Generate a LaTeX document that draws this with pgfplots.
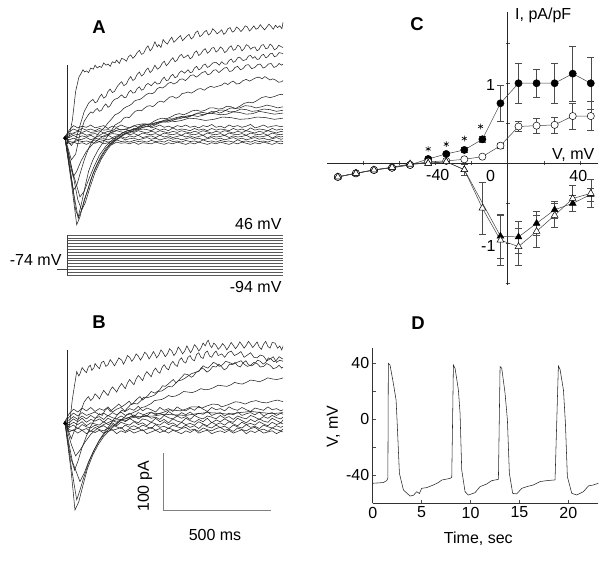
\documentclass[border=0pt]{standalone}
\usepackage{fontspec}
\setmainfont{Liberation Sans}
\usepackage{pgfplots}
\usepackage{pgfplotstable}
\pgfplotsset{compat=1.18}
\newcommand\lbl{\fontsize{16}{18}\selectfont}
\newcommand\pan{\fontsize{18.5}{20}\selectfont\bfseries}
\pgfplotsset{
  trace/.style={line width=0.55pt, black!85, no markers},
  cline/.style={line width=0.5pt, black!75},
}
\pgfplotstableread{
x a b c d e f g h
-10 0 0 0 0 0 0 0 0
10 12 9 6 2 -1 -5 -8 -12
30 20 14 7 6 3 -2 -9 -9
50 16 11 10 4 -1 -5 -6 -12
70 19 15 8 7 2 -4 -8 -10
90 17 12 11 3 0 -1 -7 -13
110 21 14 8 5 3 -5 -9 -9
130 16 11 9 6 -1 -2 -5 -11
150 18 15 11 3 2 -4 -8 -8
170 20 12 7 7 0 -3 -6 -12
190 15 13 10 4 3 -5 -9 -10
210 19 11 8 6 -1 -2 -7 -13
230 17 16 11 5 2 -4 -5 -9
250 21 12 9 3 1 -1 -8 -11
270 18 14 7 7 -2 -5 -7 -10
290 16 11 10 4 2 -3 -9 -12
310 20 15 8 6 0 -2 -6 -9
330 17 12 11 3 3 -5 -8 -13
350 19 14 9 7 -1 -3 -7 -10
370 22 13 7 5 1 -1 -9 -11
390 16 11 10 4 2 -4 -6 -12
410 18 15 8 6 -1 -2 -8 -9
430 21 12 11 3 3 -5 -7 -11
450 17 14 9 7 0 -3 -9 -13
470 19 11 7 5 2 -1 -5 -10
490 16 16 10 4 -1 -4 -8 -12
510 20 12 8 6 1 -2 -7 -9
530 18 14 11 3 3 -5 -9 -11
550 21 13 9 7 0 -3 -6 -13
570 17 11 7 5 2 -1 -8 -10
590 19 15 10 4 -1 -4 -7 -12
610 16 12 8 6 1 -2 -9 -9
630 20 14 11 3 3 -5 -5 -11
650 18 11 9 7 -2 -3 -8 -13
670 22 15 7 5 2 -1 -7 -10
690 17 12 10 4 0 -4 -9 -12
710 19 14 8 6 1 -2 -6 -9
730 16 13 11 3 3 -5 -8 -11
750 21 11 9 7 -1 -3 -7 -13
770 18 15 7 5 2 -1 -9 -10
790 20 12 10 4 0 -4 -5 -12
810 17 14 8 6 1 -2 -8 -9
830 19 11 11 3 3 -5 -7 -11
850 22 16 9 7 -1 -3 -9 -13
870 16 12 7 5 2 -1 -6 -10
890 18 14 10 4 0 -4 -8 -12
910 21 13 8 6 1 -2 -7 -9
930 17 11 11 3 3 -5 -9 -11
950 19 15 9 7 -2 -3 -6 -13
970 20 12 7 5 2 -1 -8 -10
990 18 14 10 4 0 -4 -7 -12
1000 19 13 9 5 1 -3 -8 -11
}\flatA
\pgfplotstableread{
x a b c d e f g h
-10 0 0 0 0 0 0 0 0
10 14 8 3 -2 -6 -10 -14 -18
30 22 15 9 5 -1 -6 -16 -14
50 17 10 4 0 -5 -12 -11 -20
70 24 16 10 6 0 -5 -15 -15
90 19 11 5 -1 -7 -9 -12 -21
110 25 14 11 4 -2 -11 -17 -16
130 18 17 6 1 -4 -6 -10 -19
150 23 12 9 5 -6 -10 -14 -15
170 20 15 4 -1 0 -7 -16 -20
190 26 10 11 6 -5 -12 -11 -17
210 17 16 7 2 -2 -5 -15 -14
230 22 12 5 -1 -7 -9 -13 -21
250 25 17 10 4 -1 -12 -10 -16
270 18 11 6 0 -4 -6 -17 -19
290 23 15 8 6 -6 -10 -12 -15
310 20 9 12 1 0 -7 -14 -20
330 27 16 5 -2 -5 -11 -11 -17
350 19 13 9 5 -2 -6 -16 -14
370 24 10 11 3 -7 -9 -13 -21
390 21 17 6 -1 -1 -12 -10 -18
410 17 12 8 6 -4 -5 -15 -15
430 25 15 4 0 -6 -10 -12 -19
450 20 11 11 4 0 -8 -17 -16
470 23 18 7 -2 -5 -12 -11 -20
490 18 13 5 5 -2 -6 -14 -15
510 26 10 10 1 -7 -9 -16 -18
530 21 16 6 -1 -1 -11 -12 -21
550 19 12 9 6 -5 -6 -10 -16
570 24 17 4 2 -3 -10 -15 -19
590 20 11 11 -1 -6 -7 -13 -14
610 27 15 7 4 0 -12 -17 -20
630 22 13 5 0 -4 -5 -11 -17
650 18 18 10 6 -7 -9 -14 -15
670 25 11 8 -2 -1 -11 -16 -21
690 21 14 5 3 -5 -6 -12 -18
710 23 16 11 0 -2 -10 -10 -16
730 19 10 6 5 -6 -8 -15 -19
750 26 15 9 1 0 -12 -13 -15
770 22 12 4 -1 -4 -6 -17 -20
790 20 17 10 6 -7 -9 -11 -17
810 25 11 7 2 -1 -11 -14 -14
830 21 14 5 -2 -5 -5 -16 -21
850 18 16 11 4 -3 -10 -12 -16
870 24 12 8 0 -6 -8 -10 -19
890 22 17 4 5 0 -12 -15 -15
910 20 10 9 1 -4 -6 -13 -20
930 26 14 6 -1 -7 -9 -17 -18
950 21 16 11 6 -1 -11 -11 -16
970 23 11 7 2 -5 -7 -14 -21
990 19 15 5 -2 -2 -10 -16 -17
1000 21 13 8 3 -4 -8 -13 -18
}\flatB
\begin{document}
\begin{tikzpicture}
\useasboundingbox (0,0) rectangle (610pt,560pt);
% ---------------- Panel A traces
\begin{axis}[at={(67pt,331.8pt)}, anchor=south west, scale only axis,
  width=216pt, height=205.2pt, xmin=0, xmax=1000, ymin=-160, ymax=200,
  hide axis, clip=false]
\addplot[trace] coordinates {(-10,2) (10,0) (25,30) (40,80) (55,105) (66,112) (74,118) (82,114) (90,116) (100,113) (110,121) (122,119) (130,126) (140,121) (150,124) (160,122) (170,130) (180,126) (190,128) (200,124) (210,132) (222,130) (230,135) (242,129) (253,138) (265,136) (275,133) (285,141) (295,144) (305,138) (315,142) (325,148) (335,152) (345,145) (355,147) (365,155) (375,160) (385,151) (395,156) (407,167) (418,158) (425,162) (435,157) (445,171) (455,166) (465,163) (475,170) (485,175) (495,166) (505,170) (515,174) (525,178) (535,169) (545,173) (555,177) (565,180) (575,172) (585,175) (595,183) (605,186) (615,176) (625,179) (635,184) (645,187) (655,179) (665,182) (675,190) (685,186) (695,181) (705,184) (716,188) (726,180) (735,183) (745,190) (755,192) (765,184) (775,186) (785,193) (795,190) (805,185) (815,189) (825,195) (835,193) (845,186) (855,190) (865,195) (875,189) (885,191) (895,197) (905,192) (915,188) (925,193) (935,198) (945,194) (955,189) (965,196) (975,192) (985,195) (995,190) (1000,201)};
\addplot[trace] coordinates {(-10,0) (20,-15) (40,-5) (60,20) (80,45) (90,52) (99,59) (110,63) (120,66) (130,60) (140,62) (150,70) (160,75) (170,68) (180,71) (190,80) (200,84) (210,78) (220,80) (235,90) (245,94) (253,97) (263,90) (275,93) (285,101) (295,106) (305,99) (315,102) (325,110) (335,114) (345,107) (355,110) (365,117) (375,121) (385,113) (395,117) (407,126) (418,119) (430,122) (440,129) (450,133) (460,125) (470,129) (480,135) (490,139) (500,132) (510,135) (520,142) (530,145) (540,139) (550,141) (560,144) (570,137) (580,140) (590,148) (600,151) (610,143) (620,146) (630,152) (640,155) (650,147) (660,150) (670,156) (680,157) (690,149) (700,152) (710,158) (720,155) (730,148) (740,151) (750,157) (760,160) (770,152) (780,154) (790,161) (800,159) (810,151) (820,155) (830,162) (840,160) (850,154) (860,157) (870,158) (880,151) (890,154) (900,161) (910,162) (920,155) (930,156) (940,163) (950,160) (960,153) (970,155) (980,161) (994,158) (1000,157)};
\addplot[trace] coordinates {(-10,0) (20,-40) (40,-30) (60,5) (80,28) (99,39) (110,44) (120,42) (130,47) (140,50) (150,45) (160,47) (170,54) (180,58) (190,52) (200,55) (210,62) (220,66) (235,68) (253,74) (265,69) (275,70) (285,78) (295,82) (305,77) (315,78) (325,85) (335,88) (345,82) (355,84) (365,91) (375,94) (390,90) (407,97) (418,93) (430,94) (440,101) (450,105) (460,99) (470,100) (480,107) (490,110) (500,104) (510,106) (520,113) (530,116) (545,112) (560,118) (570,113) (580,114) (590,121) (600,124) (610,118) (620,120) (630,126) (640,128) (650,122) (660,124) (675,130) (690,131) (705,126) (716,132) (728,128) (740,128) (750,134) (760,137) (770,131) (780,133) (790,139) (800,140) (815,134) (830,136) (840,142) (850,143) (860,138) (870,141) (880,136) (890,137) (900,143) (910,145) (920,139) (930,141) (940,146) (950,147) (960,141) (970,142) (982,148) (994,147) (1000,146)};
\addplot[trace] coordinates {(-10,0) (15,-60) (30,-93) (45,-85) (60,-65) (80,-40) (100,-20) (115,-8) (130,-2) (145,6) (160,12) (175,17) (190,25) (205,31) (222,39) (235,41) (250,45) (262,50) (275,53) (288,55) (300,58) (312,63) (325,65) (338,66) (350,69) (365,74) (380,77) (395,76) (407,79) (418,85) (430,87) (442,86) (455,89) (468,94) (480,96) (495,93) (510,96) (522,101) (535,102) (548,99) (560,103) (572,108) (585,109) (598,105) (610,108) (625,113) (640,115) (652,109) (665,111) (678,117) (690,118) (703,113) (716,117) (728,121) (740,122) (752,115) (765,116) (778,122) (790,124) (803,118) (815,120) (828,126) (840,127) (855,120) (870,122) (882,127) (895,128) (908,121) (920,123) (932,128) (945,129) (958,122) (970,124) (982,129) (994,126) (1000,128)};
\addplot[trace] coordinates {(-10,0) (20,-70) (40,-128) (52,-140) (68,-115) (85,-85) (100,-60) (120,-40) (145,-22) (170,-8) (195,5) (222,21) (236,24) (250,27) (262,33) (275,35) (288,34) (300,39) (315,45) (330,47) (345,46) (360,51) (372,54) (385,55) (396,53) (407,56) (420,61) (435,63) (448,61) (460,65) (475,70) (490,71) (505,68) (520,71) (532,76) (545,77) (560,79) (575,77) (590,80) (605,84) (620,85) (635,82) (650,86) (665,89) (680,87) (698,89) (716,91) (730,95) (745,92) (758,96) (770,98) (785,93) (800,94) (815,99) (830,101) (845,98) (860,101) (875,104) (890,105) (903,102) (916,106) (928,103) (940,100) (952,102) (965,100) (980,96) (994,97) (1000,99)};
\addplot[trace] coordinates {(-10,0) (20,-80) (45,-154) (60,-140) (80,-110) (99,-90) (120,-65) (145,-45) (170,-28) (195,-15) (225,-5) (253,2) (270,6) (290,9) (310,10) (330,13) (350,17) (370,19) (390,18) (407,21) (430,25) (450,27) (470,26) (490,29) (510,33) (530,35) (550,34) (570,36) (590,40) (610,41) (630,39) (650,41) (670,45) (690,45) (705,42) (716,43) (740,48) (760,51) (780,50) (800,54) (820,59) (840,61) (860,60) (880,64) (900,69) (920,71) (940,69) (960,71) (980,74) (994,75) (1000,74)};
\addplot[trace] coordinates {(-10,0) (20,-75) (52,-143) (70,-125) (90,-100) (110,-75) (130,-55) (155,-35) (180,-20) (210,-8) (240,2) (260,8) (280,11) (300,12) (320,15) (340,20) (360,23) (380,22) (400,27) (420,31) (440,33) (460,32) (480,35) (500,39) (520,41) (540,39) (560,42) (580,46) (600,47) (620,45) (640,47) (660,51) (680,51) (700,49) (720,50) (740,54) (760,53) (780,50) (800,51) (825,55) (850,54) (875,51) (900,53) (925,56) (950,54) (975,51) (1000,53)};
\addplot[trace] coordinates {(-10,0) (25,-60) (50,-110) (68,-128) (85,-115) (105,-90) (130,-62) (160,-38) (190,-20) (220,-8) (250,1) (270,5) (290,7) (310,12) (330,15) (355,17) (380,19) (405,24) (430,27) (455,26) (480,30) (505,34) (530,36) (555,35) (580,38) (605,42) (630,43) (655,41) (680,43) (705,47) (730,47) (755,44) (780,45) (805,49) (830,48) (855,45) (880,46) (910,49) (940,48) (970,45) (1000,47)};
\addplot[trace] coordinates {(-10,0) (25,-60) (60,-105) (80,-95) (100,-75) (125,-52) (150,-32) (180,-16) (210,-5) (240,3) (260,8) (280,11) (305,13) (330,16) (355,21) (380,23) (405,22) (430,26) (455,30) (480,32) (505,31) (530,33) (555,37) (580,38) (605,36) (630,38) (655,42) (680,41) (710,39) (740,40) (770,44) (800,43) (830,40) (860,41) (890,45) (920,43) (960,40) (1000,42)};
\addplot[trace] coordinates {(-10,0) (15,-50) (29,-70) (45,-60) (65,-42) (90,-25) (120,-12) (150,-3) (170,2) (190,5) (215,10) (240,13) (265,13) (290,16) (320,21) (350,23) (380,22) (410,25) (440,28) (470,29) (500,27) (530,29) (565,33) (600,32) (640,29) (680,31) (720,35) (760,34) (800,31) (840,32) (880,35) (920,34) (960,31) (1000,33)};
\addplot[trace] table[x=x, y=a] {\flatA};
\addplot[trace] table[x=x, y=b] {\flatA};
\addplot[trace] table[x=x, y=c] {\flatA};
\addplot[trace] table[x=x, y=d] {\flatA};
\addplot[trace] table[x=x, y=e] {\flatA};
\addplot[trace] table[x=x, y=f] {\flatA};
\addplot[trace] table[x=x, y=g] {\flatA};
\addplot[trace] table[x=x, y=h] {\flatA};
\addplot[trace] coordinates {(3,-12) (3,126)};
\addplot[only marks, mark=*, mark size=1.7pt, black] coordinates {(-9,-2)};
\end{axis}
% ---------------- Panel A voltage protocol
\begin{axis}[at={(67pt,285pt)}, anchor=south west, scale only axis,
  width=216pt, height=40pt, xmin=0, xmax=1000, ymin=-94, ymax=46,
  hide axis, clip=false]
\pgfplotsinvokeforeach{-94,-84,-74,-64,-54,-44,-34,-24,-14,-4,6,16,26,36,46}{
  \addplot[line width=0.45pt, black!65] coordinates {(0,#1) (1000,#1)};
}
\addplot[line width=0.5pt, black!75] coordinates {(0,-94) (0,46)};
\addplot[line width=0.5pt, black!75] coordinates {(-46,-74) (0,-74)};
\end{axis}
% ---------------- Panel B traces
\begin{axis}[at={(67pt,47.1pt)}, anchor=south west, scale only axis,
  width=216pt, height=176.7pt, xmin=0, xmax=1000, ymin=-160, ymax=150,
  hide axis, clip=false]
\addplot[trace] coordinates {(-10,0) (10,-10) (25,40) (45,88) (55,80) (60,84) (70,95) (80,90) (90,86) (99,96) (108,99) (115,90) (125,95) (130,102) (140,97) (150,93) (160,104) (170,106) (180,97) (190,100) (200,109) (210,104) (220,98) (230,105) (240,112) (253,108) (262,101) (270,107) (280,116) (290,113) (300,106) (310,111) (320,119) (330,115) (340,108) (350,114) (360,122) (370,118) (380,110) (390,116) (400,123) (407,119) (415,112) (425,117) (435,126) (445,121) (455,114) (465,119) (475,128) (485,124) (495,116) (505,121) (515,131) (525,126) (535,119) (545,124) (555,133) (562,128) (572,121) (580,126) (590,135) (600,131) (610,124) (620,129) (630,138) (640,133) (648,140) (654,143) (662,134) (670,130) (680,138) (690,134) (700,127) (710,131) (720,137) (730,133) (740,126) (750,132) (760,139) (770,134) (780,128) (790,133) (800,140) (810,135) (820,129) (830,134) (840,141) (850,136) (860,130) (870,135) (880,140) (890,131) (900,127) (910,136) (920,141) (930,132) (940,129) (950,139) (963,138) (975,129) (985,133) (994,126) (1000,132)};
\addplot[trace] coordinates {(-10,0) (20,-30) (40,-10) (60,15) (80,35) (90,40) (99,44) (110,37) (120,41) (130,49) (140,45) (150,40) (160,48) (170,55) (180,50) (190,46) (200,55) (210,61) (220,57) (230,52) (240,60) (253,67) (262,62) (270,58) (280,68) (290,74) (300,69) (310,65) (320,75) (330,81) (340,77) (350,72) (360,82) (370,88) (380,83) (390,79) (400,89) (410,94) (420,88) (430,85) (440,95) (450,100) (460,94) (470,91) (480,101) (490,106) (500,100) (510,97) (520,108) (530,112) (540,105) (550,103) (560,113) (570,116) (580,109) (590,107) (600,118) (610,121) (620,113) (630,111) (640,121) (650,124) (660,115) (670,113) (680,120) (690,124) (700,116) (716,119) (730,113) (745,121) (760,124) (775,116) (790,119) (805,123) (820,113) (835,117) (850,121) (865,113) (880,112) (895,117) (910,115) (925,107) (940,110) (955,114) (970,104) (985,108) (1000,106)};
\addplot[trace] coordinates {(-10,0) (15,-60) (35,-85) (50,-70) (70,-45) (90,-25) (110,-8) (130,5) (150,14) (163,11) (176,20) (188,24) (200,18) (212,22) (225,26) (240,31) (253,26) (265,29) (275,32) (288,36) (300,30) (312,35) (325,40) (338,44) (350,38) (362,42) (375,46) (390,53) (407,50) (418,53) (430,56) (442,63) (455,62) (468,66) (480,70) (492,74) (505,68) (518,73) (530,78) (545,84) (562,82) (575,78) (585,80) (598,87) (610,88) (622,95) (635,92) (648,87) (660,90) (675,97) (690,96) (703,101) (716,96) (728,91) (740,94) (752,101) (765,100) (778,104) (790,98) (802,96) (815,103) (828,107) (840,100) (855,98) (870,102) (882,108) (895,106) (908,101) (920,104) (932,112) (945,110) (958,105) (970,108) (982,114) (994,111) (1000,110)};
\addplot[trace] coordinates {(-10,0) (20,-80) (45,-137) (60,-120) (80,-95) (100,-72) (125,-50) (150,-32) (175,-18) (200,-5) (212,2) (225,8) (240,15) (253,20) (266,18) (280,24) (295,30) (310,32) (325,31) (340,36) (355,43) (370,42) (388,44) (407,47) (423,53) (440,54) (455,58) (470,62) (485,61) (500,66) (515,72) (531,73) (545,76) (560,80) (575,84) (590,86) (605,88) (620,92) (630,98) (639,96) (652,94) (665,99) (678,104) (690,102) (705,97) (720,100) (735,106) (750,104) (770,101) (793,105) (806,107) (820,101) (835,97) (850,99) (865,104) (880,102) (895,96) (910,97) (925,102) (940,99) (955,93) (970,95) (982,99) (994,94) (1000,96)};
\addplot[trace] coordinates {(-10,0) (20,-90) (37,-155) (55,-140) (75,-110) (95,-82) (120,-58) (145,-40) (170,-26) (200,-14) (230,-4) (260,6) (278,12) (295,14) (312,17) (330,20) (345,25) (360,26) (375,29) (390,32) (405,37) (420,38) (438,39) (455,42) (470,46) (485,44) (502,45) (520,48) (540,53) (560,52) (580,51) (600,54) (620,58) (639,56) (660,57) (680,60) (700,64) (720,63) (740,62) (760,65) (776,69) (793,67) (812,66) (830,69) (850,73) (870,72) (890,70) (910,73) (930,77) (950,75) (972,74) (994,76) (1000,77)};
\addplot[trace] coordinates {(-10,0) (25,-70) (60,-105) (80,-90) (100,-70) (125,-50) (150,-33) (180,-18) (210,-8) (240,0) (260,4) (280,6) (300,9) (320,10) (340,8) (360,13) (380,16) (400,15) (425,14) (450,17) (475,21) (500,20) (525,19) (550,22) (575,26) (600,26) (625,24) (650,28) (675,31) (700,30) (716,26) (740,29) (760,32) (780,35) (800,34) (825,31) (850,35) (875,37) (900,34) (925,33) (950,36) (975,38) (1000,35)};
\addplot[trace] coordinates {(-10,0) (20,-40) (40,-60) (60,-50) (85,-35) (110,-22) (140,-12) (170,-5) (200,0) (225,3) (250,4) (275,2) (300,7) (350,9) (400,10) (450,13) (500,12) (550,11) (600,14) (650,16) (700,15) (750,13) (800,16) (850,18) (900,16) (950,14) (1000,16)};
\addplot[trace] table[x=x, y=a] {\flatB};
\addplot[trace] table[x=x, y=b] {\flatB};
\addplot[trace] table[x=x, y=c] {\flatB};
\addplot[trace] table[x=x, y=d] {\flatB};
\addplot[trace] table[x=x, y=e] {\flatB};
\addplot[trace] table[x=x, y=f] {\flatB};
\addplot[trace] table[x=x, y=g] {\flatB};
\addplot[trace] table[x=x, y=h] {\flatB};
\addplot[trace] coordinates {(3,-15) (3,125)};
\addplot[only marks, mark=*, mark size=1.7pt, black] coordinates {(-9,-3)};
% scale bar
\addplot[line width=0.6pt, black!50] coordinates {(444,-55) (444,-155) (944,-155)};
\end{axis}
% ---------------- Panel C
\begin{axis}[at={(327pt,275pt)}, anchor=south west, scale only axis,
  width=271pt, height=273pt, xmin=-100, xmax=50, ymin=-1.52, ymax=1.89,
  axis lines=middle, axis line style={-, line width=0.7pt, black!85},
  xtick={-80,-60,-40,-20,20,40}, ytick={-1.5,-1,-0.5,0.5,1,1.5},
  xticklabels={}, yticklabels={}, major tick length=4pt,
  tick style={black!70, line width=0.5pt}, clip=false,
  error bars/error bar style={black!70, line width=0.5pt},
  error bars/error mark options={rotate=90, mark size=3.6pt, black!70, line width=0.5pt}]
\addplot[cline, mark=*, mark size=3.6pt, mark options={fill=black, draw=black},
  error bars/.cd, y dir=both, y explicit] coordinates {
  (-94,-0.17) (-84,-0.125) (-74,-0.083) (-64,-0.055) (-54,-0.02)
  (-44,0.054) +- (0,0.02) (-34,0.117) +- (0,0.02) (-24,0.167) +- (0,0.03) (-14,0.30) +- (0,0.04)
  (-4,0.75) +- (0,0.23) (6,1.0) +- (0,0.25) (16,1.0) +- (0,0.18) (26,1.0) +- (0,0.25)
  (36,1.12) +- (0,0.34) (46,1.0) +- (0,0.33)};
\addplot[cline, mark=*, mark size=3.6pt, mark options={fill=white, draw=black},
  error bars/.cd, y dir=both, y explicit] coordinates {
  (-94,-0.17) (-84,-0.125) (-74,-0.083) (-64,-0.055) (-54,-0.02)
  (-44,0.02) (-34,0.03) (-24,0.05) (-14,0.083)
  (-4,0.22) +- (0,0.03) (6,0.46) +- (0,0.06) (16,0.47) +- (0,0.09) (26,0.48) +- (0,0.1)
  (36,0.59) +- (0,0.16) (46,0.59) +- (0,0.18)};
\addplot[cline, mark=triangle*, mark size=3.9pt, mark options={fill=black, draw=black},
  error bars/.cd, y dir=both, y explicit] coordinates {
  (-94,-0.17) (-84,-0.125) (-74,-0.083) (-64,-0.05) (-54,-0.01)
  (-44,0.0) (-34,0.02) (-24,-0.08) +- (0,0.07)
  (-4,-0.91) +- (0,0.27) (6,-0.92) +- (0,0.2) (16,-0.75) +- (0,0.15) (26,-0.58) +- (0,0.11)
  (36,-0.5) +- (0,0.1) (46,-0.39) +- (0,0.08)};
\addplot[cline, mark=triangle*, mark size=3.9pt, mark options={fill=white, draw=black},
  error bars/.cd, y dir=both, y explicit] coordinates {
  (-94,-0.17) (-84,-0.125) (-74,-0.083) (-64,-0.05) (-54,-0.01)
  (-44,0.0) (-34,0.02) (-24,-0.08)
  (-14,-0.56) +- (0,0.32) (-4,-0.96) +- (0,0.31) (6,-1.04) +- (0,0.23) (16,-0.85) +- (0,0.2)
  (26,-0.65) +- (0,0.15) (36,-0.44) +- (0,0.16) (46,-0.375) +- (0,0.18)};
\addplot[only marks, mark=asterisk, mark size=2.8pt, black, line width=0.6pt]
  coordinates {(-44,0.18) (-34,0.24) (-24,0.31) (-15,0.46)};
\node[font=\lbl] at (axis cs:-38.7,-0.146) {-40};
\node[font=\lbl] at (axis cs:-9.4,-0.155) {0};
\node[font=\lbl] at (axis cs:39.1,-0.155) {40};
\node[font=\lbl] at (axis cs:-9.4,0.98) {1};
\node[font=\lbl] at (axis cs:-10.7,-1.03) {-1};
\node[font=\lbl, anchor=west] at (axis cs:2.2,1.85) {I, pA/pF};
\node[font=\lbl, anchor=base] at (axis cs:36.3,0.05) {V, mV};
\end{axis}
% ---------------- Panel D
\begin{axis}[at={(372.7pt,56.7pt)}, anchor=south west, scale only axis,
  width=225pt, height=155.4pt, xmin=0, xmax=23, ymin=-60, ymax=51,
  axis x line=bottom, axis y line=left, axis line style={-, line width=0.6pt, black!80},
  xtick={0,5,10,15,20}, ytick={-40,0,40}, minor ytick={-20,20},
  major tick length=3pt, minor tick length=3pt, tick align=inside,
  tick style={black!70, line width=0.5pt},
  /pgf/number format/assume math mode=true,
  ticklabel style={font=\lbl}, clip=false]
\addplot[line width=0.55pt, black!85] coordinates {
  (0,-45.7) (1.09,-45.2) (1.43,-43.8) (1.55,-42) (1.60,40) (1.77,38.8) (2.11,25.7) (2.39,13.8)
  (2.52,-5.3) (2.73,-38.6) (3.14,-50.5) (3.82,-54.8) (4.16,-54.3) (4.50,-51.7) (4.77,-53)
  (5.01,-49.3) (5.52,-48.8) (6.20,-46.9) (6.71,-45.2) (7.06,-43.4) (7.91,-42.2) (8.08,-41.4)
  (8.25,38.8) (8.42,36.4) (8.76,20.9) (8.93,4.3) (9.10,-36.2) (9.44,-51.7) (9.78,-54.1)
  (10.46,-52.4) (10.97,-48.1) (11.66,-46.2) (12.17,-43.8) (12.85,-42.9)
  (13.02,37.6) (13.19,36.4) (13.53,18.6) (13.77,-0.5) (13.97,-38.6) (14.31,-52.9) (14.72,-53.3)
  (15.24,-49.3) (15.75,-48.1) (16.43,-46.9) (17.11,-44.5) (17.79,-43.8) (18.64,-43.3)
  (18.98,38.1) (19.15,35.7) (19.50,20.9) (19.70,-2.9) (19.90,-41) (20.35,-52.9) (20.86,-54.1)
  (21.54,-51.7) (22.05,-47.6) (22.56,-46.9) (23.07,-45.7)};
\node[font=\lbl] at (axis cs:10.8,-85) {Time, sec};
\node[font=\lbl, rotate=90] at (axis cs:-4.03,-5.3) {V, mV};
\end{axis}
% ---------------- Text labels
\node[font=\pan] at (99pt,533pt) {A};
\node[font=\pan] at (99pt,238pt) {B};
\node[font=\pan] at (417pt,536pt) {C};
\node[font=\pan] at (418pt,237pt) {D};
\node[font=\lbl, anchor=east] at (285pt,336pt) {46 mV};
\node[font=\lbl, anchor=east] at (65pt,300pt) {-74 mV};
\node[font=\lbl, anchor=east] at (285pt,273pt) {-94 mV};
\node[font=\lbl, rotate=90] at (145pt,73.5pt) {100 pA};
\node[font=\lbl] at (215pt,25pt) {500 ms};
\end{tikzpicture}
\end{document}
